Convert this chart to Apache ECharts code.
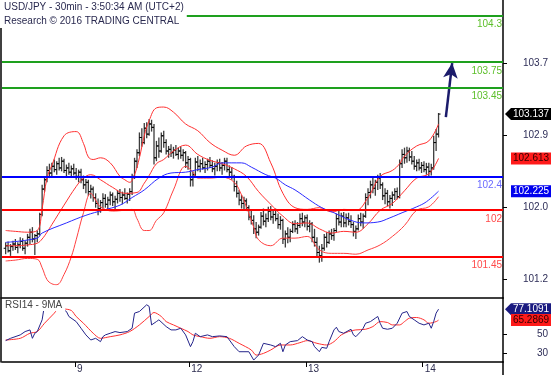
<!DOCTYPE html>
<html><head><meta charset="utf-8">
<script src="https://cdn.jsdelivr.net/npm/echarts@6/dist/echarts.min.js"></script>
<style>html,body{margin:0;padding:0;background:#fff}#c{width:554px;height:375px}</style>
</head><body><div id="c"></div>
<script>
const titleText = 'USD/JPY - 30min - 3:50:34 AM (UTC+2)';
const subText = 'Research © 2016 TRADING CENTRAL';
const rsiTitle = 'RSI14 - 9MA';
const dayTicks = [29.5, 76.5, 124.5, 172.5];
const dayLabels = ['9', '12', '13', '14'];
const priceTicks = [101.18, 102.034, 102.889, 103.737];
const rsiTicks = [30, 50];
const greenLevels = [104.3, 103.75, 103.45];
const blueLevels = [102.4];
const redLevels = [102, 101.45];
const arrowFrom = [182, 103.10];
const arrowTo = [184.6, 103.74];
const firstBar = 1;
// [open, high, low, close]
const bars = [
[101.55,101.62,101.48,101.58],[101.58,101.63,101.50,101.52],[101.52,101.60,101.46,101.57],[101.57,101.64,101.52,101.60],[101.60,101.66,101.53,101.56],[101.56,101.62,101.49,101.59],[101.59,101.68,101.55,101.63],[101.63,101.67,101.52,101.55],[101.55,101.64,101.48,101.61],[101.61,101.72,101.57,101.68],
[101.68,101.78,101.60,101.74],[101.74,101.80,101.62,101.66],[101.66,101.72,101.47,101.70],[101.70,101.76,101.62,101.72],[101.72,101.97,101.70,101.95],[101.95,102.30,101.93,102.25],[102.25,102.40,102.22,102.36],[102.36,102.52,102.33,102.47],[102.47,102.55,102.38,102.44],[102.44,102.56,102.40,102.52],
[102.52,102.60,102.45,102.48],[102.48,102.58,102.42,102.55],[102.55,102.62,102.47,102.50],[102.50,102.63,102.46,102.58],[102.58,102.61,102.44,102.47],[102.47,102.54,102.40,102.50],[102.50,102.56,102.42,102.45],[102.45,102.53,102.38,102.49],[102.49,102.55,102.41,102.44],[102.44,102.50,102.36,102.40],
[102.40,102.48,102.33,102.45],[102.45,102.49,102.32,102.36],[102.36,102.41,102.25,102.30],[102.30,102.37,102.20,102.33],[102.33,102.36,102.17,102.22],[102.22,102.30,102.14,102.25],[102.25,102.28,102.10,102.15],[102.15,102.20,102.03,102.08],[102.08,102.14,101.94,102.02],[102.02,102.12,101.97,102.09],
[102.09,102.20,102.02,102.14],[102.14,102.19,102.03,102.07],[102.07,102.16,101.99,102.12],[102.12,102.22,102.06,102.18],[102.18,102.21,102.05,102.10],[102.10,102.17,102.01,102.13],[102.13,102.24,102.08,102.20],[102.20,102.25,102.10,102.15],[102.15,102.22,102.07,102.18],[102.18,102.26,102.12,102.14],
[102.14,102.21,102.08,102.19],[102.19,102.26,102.11,102.22],[102.22,102.43,102.18,102.40],[102.40,102.62,102.37,102.58],[102.58,102.72,102.50,102.68],[102.68,102.92,102.64,102.86],[102.86,102.97,102.75,102.80],[102.80,103.03,102.78,102.97],[102.97,103.04,102.85,102.90],[102.90,103.08,102.88,103.02],
[103.02,103.07,102.93,102.98],[102.98,103.02,102.54,102.62],[102.62,102.82,102.58,102.76],[102.76,102.86,102.62,102.70],[102.70,102.92,102.68,102.88],[102.88,102.94,102.74,102.80],[102.80,102.84,102.66,102.70],[102.70,102.76,102.62,102.72],[102.72,102.78,102.63,102.68],[102.68,102.75,102.61,102.71],
[102.71,102.77,102.64,102.66],[102.66,102.74,102.60,102.70],[102.70,102.75,102.61,102.65],[102.65,102.72,102.58,102.68],[102.68,102.70,102.50,102.56],[102.56,102.64,102.48,102.60],[102.60,102.62,102.28,102.36],[102.36,102.46,102.28,102.42],[102.42,102.62,102.40,102.57],[102.57,102.64,102.46,102.52],
[102.52,102.60,102.45,102.55],[102.55,102.62,102.48,102.50],[102.50,102.58,102.44,102.54],[102.54,102.61,102.47,102.58],[102.58,102.63,102.50,102.53],[102.53,102.59,102.45,102.49],[102.49,102.56,102.41,102.52],[102.52,102.60,102.46,102.56],[102.56,102.61,102.46,102.50],[102.50,102.57,102.42,102.53],
[102.53,102.62,102.47,102.58],[102.58,102.62,102.45,102.48],[102.48,102.53,102.38,102.45],[102.45,102.51,102.36,102.40],[102.40,102.42,102.22,102.28],[102.28,102.35,102.15,102.20],[102.20,102.24,102.06,102.12],[102.12,102.18,102.02,102.08],[102.08,102.16,102.00,102.11],[102.11,102.14,101.99,102.03],
[102.03,102.06,101.88,101.92],[101.92,101.99,101.83,101.88],[101.88,101.94,101.72,101.78],[101.78,101.86,101.67,101.74],[101.74,101.83,101.70,101.80],[101.80,101.98,101.78,101.93],[101.93,102.02,101.82,101.87],[101.87,101.96,101.80,101.90],[101.90,102.04,101.86,101.99],[101.99,102.05,101.88,101.92],
[101.92,101.99,101.84,101.95],[101.95,102.02,101.87,101.90],[101.90,101.96,101.78,101.83],[101.83,101.93,101.77,101.88],[101.88,101.90,101.60,101.66],[101.66,101.76,101.56,101.72],[101.72,101.80,101.61,101.68],[101.68,101.78,101.62,101.75],[101.75,101.87,101.73,101.83],[101.83,101.88,101.74,101.78],
[101.78,101.86,101.72,101.82],[101.82,101.96,101.79,101.90],[101.90,101.97,101.81,101.86],[101.86,101.94,101.80,101.91],[101.91,101.95,101.76,101.81],[101.81,101.88,101.74,101.84],[101.84,101.86,101.62,101.68],[101.68,101.78,101.57,101.62],[101.62,101.68,101.44,101.50],[101.50,101.58,101.38,101.46],
[101.46,101.60,101.39,101.55],[101.55,101.72,101.52,101.68],[101.68,101.74,101.56,101.62],[101.62,101.76,101.60,101.72],[101.72,101.78,101.65,101.70],[101.70,101.79,101.64,101.76],[101.76,101.96,101.74,101.90],[101.90,101.99,101.82,101.86],[101.86,101.97,101.80,101.93],[101.93,101.98,101.80,101.85],
[101.85,101.96,101.80,101.91],[101.91,101.97,101.82,101.87],[101.87,101.94,101.79,101.83],[101.83,101.86,101.69,101.75],[101.75,101.82,101.66,101.78],[101.78,101.95,101.76,101.90],[101.90,101.97,101.81,101.86],[101.86,101.96,101.78,101.93],[101.93,102.20,101.91,102.15],[102.15,102.26,102.06,102.21],
[102.21,102.35,102.14,102.30],[102.30,102.38,102.20,102.26],[102.26,102.36,102.17,102.33],[102.33,102.42,102.24,102.38],[102.38,102.44,102.25,102.30],[102.30,102.33,102.12,102.17],[102.17,102.26,102.07,102.20],[102.20,102.24,102.05,102.10],[102.10,102.18,102.02,102.14],[102.14,102.22,102.05,102.18],
[102.18,102.26,102.12,102.22],[102.22,102.27,102.13,102.16],[102.16,102.60,102.14,102.55],[102.55,102.72,102.50,102.66],[102.66,102.74,102.55,102.62],[102.62,102.75,102.56,102.70],[102.70,102.74,102.58,102.63],[102.63,102.70,102.54,102.58],[102.58,102.64,102.48,102.52],[102.52,102.60,102.46,102.56],
[102.56,102.61,102.47,102.50],[102.50,102.57,102.44,102.53],[102.53,102.58,102.45,102.48],[102.48,102.56,102.42,102.51],[102.51,102.56,102.40,102.46],[102.46,102.55,102.41,102.50],[102.50,102.88,102.48,102.80],[102.80,102.96,102.70,102.90],[102.90,103.15,102.86,103.137]
];
const bbUpper = [[1,101.76],[5,101.75],[10,101.74],[14,101.76],[16,102.02],[18,102.38],[20,102.53],[25,102.88],[30,102.93],[33,102.79],[35,102.63],[37,102.60],[40,102.62],[44,102.56],[48,102.40],[50,102.36],[52,102.33],[54,102.42],[56,102.62],[58,102.88],[60,103.06],[63,103.21],[66,103.22],[70,103.16],[75,103.02],[80,102.94],[85,102.80],[90,102.71],[95,102.65],[100,102.76],[105,102.79],[110,102.56],[115,102.20],[120,102.03],[125,102.01],[130,102.03],[135,101.98],[140,102.01],[145,102.00],[150,102.15],[155,102.40],[160,102.47],[163,102.55],[165,102.64],[170,102.76],[175,102.82],[179,103.02]];
const bbMiddle = [[1,101.58],[5,101.58],[10,101.59],[14,101.61],[16,101.66],[18,101.74],[20,101.83],[25,102.06],[30,102.28],[33,102.38],[36,102.42],[40,102.36],[45,102.27],[50,102.20],[55,102.21],[58,102.32],[60,102.41],[63,102.55],[66,102.60],[70,102.70],[75,102.77],[80,102.66],[85,102.59],[90,102.55],[95,102.49],[100,102.40],[105,102.22],[110,102.07],[115,101.93],[120,101.84],[125,101.85],[130,101.78],[135,101.73],[140,101.75],[145,101.74],[150,101.84],[155,102.00],[160,102.08],[165,102.23],[170,102.38],[175,102.43],[179,102.613]];
const bbLower = [[1,101.40],[5,101.41],[10,101.43],[14,101.42],[16,101.32],[18,101.18],[20,101.13],[22,101.12],[25,101.24],[28,101.45],[30,101.65],[33,101.97],[36,102.20],[38,102.12],[40,102.04],[45,101.99],[50,102.00],[53,102.01],[55,101.90],[58,101.76],[60,101.76],[63,101.88],[66,101.97],[70,102.24],[75,102.52],[78,102.45],[80,102.38],[85,102.38],[90,102.39],[95,102.33],[98,102.18],[100,102.04],[103,101.80],[105,101.65],[110,101.58],[115,101.67],[120,101.67],[125,101.69],[130,101.53],[135,101.49],[140,101.49],[145,101.48],[150,101.53],[155,101.59],[160,101.69],[165,101.82],[170,102.00],[175,102.04],[179,102.16]];
const ma50 = [[1,101.62],[14,101.67],[16,101.73],[26,101.85],[34,101.94],[41,102.00],[48,102.06],[53,102.15],[58,102.24],[64,102.38],[69,102.44],[75,102.45],[80,102.48],[86,102.51],[90,102.56],[98,102.56],[102,102.51],[108,102.42],[112,102.38],[116,102.30],[120,102.24],[126,102.12],[131,102.03],[136,101.97],[143,101.88],[148,101.85],[154,101.86],[159,101.91],[164,101.97],[170,102.04],[174,102.10],[179,102.225]];
const rsi14 = [[1,43.1],[3,45.6],[7,49.3],[9,52.9],[11,54.7],[12,45.6],[13,51.1],[14,52.9],[16,65.6],[17,81.9],[19,85.5],[21,84.5],[23,80.5],[24,78.2],[26,74.6],[27,69.2],[30,63.7],[32,56.5],[34,49.3],[36,43.8],[38,45.6],[40,42.0],[41,47.4],[42,49.3],[44,51.1],[46,52.9],[48,51.8],[51,52.9],[53,56.5],[54,72.8],[56,74.6],[59,81.9],[60,80.1],[61,60.1],[63,63.7],[64,65.6],[67,58.3],[69,54.7],[71,54.7],[73,56.5],[75,49.3],[77,36.6],[78,42.0],[79,51.1],[81,47.4],[84,49.3],[86,47.4],[89,48.2],[92,47.4],[95,36.6],[97,31.1],[101,31.1],[103,22.1],[105,27.5],[107,40.2],[110,38.4],[112,36.6],[114,40.2],[115,31.1],[116,38.4],[118,42.0],[121,43.1],[123,47.4],[125,43.8],[127,42.0],[128,36.6],[130,31.1],[131,35.8],[133,34.8],[134,42.0],[136,54.7],[137,57.6],[138,52.9],[140,51.1],[143,55.4],[144,49.3],[145,47.4],[147,52.9],[148,56.5],[149,61.9],[151,63.7],[153,67.4],[154,69.2],[155,61.9],[156,56.5],[158,55.4],[160,56.5],[162,61.9],[164,72.8],[166,74.6],[167,69.2],[169,65.6],[171,61.9],[173,60.1],[175,61.9],[176,56.5],[177,63.7],[178,72.8],[179,77.1091]];
const rsiMa9 = [[1,43.8],[7,45.6],[11,51.1],[14,52.9],[17,61.9],[21,72.8],[23,78.5],[25,77.5],[28,75.7],[30,69.2],[33,61.9],[37,51.1],[40,45.6],[44,47.4],[48,49.3],[52,52.9],[56,60.1],[60,69.2],[62,73.5],[65,69.2],[67,63.7],[70,60.1],[73,56.5],[76,52.9],[78,49.3],[81,47.4],[85,45.6],[89,47.4],[93,45.6],[97,40.2],[102,33.0],[104,27.5],[107,29.3],[110,33.0],[114,38.4],[118,38.4],[122,40.9],[125,43.1],[129,40.2],[133,38.4],[136,42.0],[139,49.3],[142,52.9],[145,54.7],[149,55.4],[152,58.3],[155,63.7],[158,62.7],[160,60.1],[163,60.1],[165,63.7],[167,67.4],[170,68.1],[173,65.6],[175,61.9],[178,63.7],[179,65.2869]];

const X_MIN = -0.5, X_MAX = 205.5;
const FONT = 'Liberation Sans, Arial, sans-serif';
const axisTextColor = '#2e2e58';
const barData = bars.map((b, k) => [firstBar + k, b[0], b[1], b[2], b[3]]);
const lastOf = a => a[a.length - 1][1];
const lastClose = bars[bars.length - 1][3];

function badge(v, bg, fg, arrow, digits) {
  return {
    coord: [X_MAX, v], value: v,
    symbol: arrow ? 'path://M0,6L6,0L46,0L46,12L6,12Z' : 'rect',
    symbolSize: arrow ? [46, 12] : [40, 12],
    symbolOffset: arrow ? [25, 0] : [28, 0],
    itemStyle: { color: bg },
    label: { show: true, position: 'inside', color: fg, fontSize: 10, fontFamily: FONT,
      offset: arrow ? [3, 0] : [0, 0], formatter: () => v.toFixed(digits) }
  };
}
function level(v, lineColor, textColor) {
  return { yAxis: v, lineStyle: { color: lineColor, width: 2, type: 'solid' },
    label: { color: textColor } };
}

const chart = echarts.init(document.getElementById('c'), null, { renderer: 'canvas' });
const borderAxis = (gridIndex) => ({
  type: 'value', gridIndex, position: 'left', offset: 1.5, min: 0, max: 1,
  axisLine: { show: true, onZero: false, lineStyle: { color: '#000', width: 1.5 } },
  axisTick: { show: false }, axisLabel: { show: false }, splitLine: { show: false }
});
chart.setOption({
  animation: false,
  textStyle: { fontFamily: FONT },
  title: [
    { text: titleText, subtext: subText, left: 0, top: 0, padding: [2, 3, 2, 4], itemGap: 4,
      backgroundColor: '#fff',
      textStyle: { fontSize: 10, fontWeight: 'normal', color: '#2a2a50', fontFamily: FONT },
      subtextStyle: { fontSize: 10, color: '#2a2a50', fontFamily: FONT } },
    { text: rsiTitle, left: 2, top: 299, padding: [1, 3, 1, 3], backgroundColor: '#fff',
      textStyle: { fontSize: 10, fontWeight: 'normal', color: '#444', fontFamily: FONT } }
  ],
  grid: [
    { left: 2, right: 51, top: 0, height: 298 },
    { left: 2, right: 51, top: 298, height: 64 },
    { left: 2, right: 51, top: 362, height: 13 }
  ],
  xAxis: [
    { type: 'value', gridIndex: 0, min: X_MIN, max: X_MAX,
      axisLine: { show: true, onZero: false, lineStyle: { color: '#000', width: 1.5 } },
      axisTick: { show: false }, axisLabel: { show: false }, splitLine: { show: false } },
    { type: 'value', gridIndex: 1, min: X_MIN, max: X_MAX,
      axisLine: { show: true, onZero: false, lineStyle: { color: '#000', width: 1.5 } },
      axisTick: { show: true, customValues: dayTicks, length: 5, lineStyle: { color: '#000' } },
      axisLabel: { show: true, customValues: dayTicks, margin: 2, align: 'left', padding: [0, 0, 0, 2],
        fontSize: 10, color: '#2e2e50', formatter: v => dayLabels[dayTicks.indexOf(v)] },
      splitLine: { show: false } },
    { type: 'value', gridIndex: 2, min: X_MIN, max: X_MAX, show: false }
  ],
  yAxis: [
    { type: 'value', gridIndex: 0, position: 'right', min: 100.962, max: 104.486,
      axisLine: { show: true, onZero: false, lineStyle: { color: '#000', width: 1.5 } },
      axisTick: { show: true, customValues: priceTicks, length: 4, lineStyle: { color: '#000' } },
      axisLabel: { show: true, customValues: priceTicks, margin: 45, align: 'right',
        fontSize: 10, color: axisTextColor, formatter: v => v.toFixed(1) },
      splitLine: { show: false } },
    borderAxis(0),
    { type: 'value', gridIndex: 1, position: 'right', min: 20, max: 89.2,
      axisLine: { show: true, onZero: false, lineStyle: { color: '#000', width: 1.5 } },
      axisTick: { show: true, customValues: rsiTicks, length: 4, lineStyle: { color: '#000' } },
      axisLabel: { show: true, customValues: rsiTicks, margin: 45, align: 'right',
        fontSize: 10, color: axisTextColor, formatter: v => String(v) },
      splitLine: { show: false } },
    borderAxis(1),
    { type: 'value', gridIndex: 2, position: 'right', min: 0, max: 1,
      axisLine: { show: true, onZero: false, lineStyle: { color: '#000', width: 1.5 } },
      axisTick: { show: false }, axisLabel: { show: false }, splitLine: { show: false } }
  ],
  series: [
    { type: 'custom', name: 'bars', xAxisIndex: 0, yAxisIndex: 0, z: 2,
      data: barData, encode: { x: 0, y: [1, 2, 3, 4] },
      renderItem: function (params, api) {
        const i = api.value(0);
        const pO = api.coord([i, api.value(1)]);
        const pH = api.coord([i, api.value(2)]);
        const pL = api.coord([i, api.value(3)]);
        const pC = api.coord([i, api.value(4)]);
        const x = pH[0];
        return { type: 'group', children: [
          { type: 'line', shape: { x1: x, y1: pH[1], x2: x, y2: pL[1] }, style: { stroke: '#3c3c3c', lineWidth: 1.3 } },
          { type: 'line', shape: { x1: x - 2, y1: pO[1], x2: x, y2: pO[1] }, style: { stroke: '#000', lineWidth: 1 } },
          { type: 'line', shape: { x1: x, y1: pC[1], x2: x + 2, y2: pC[1] }, style: { stroke: '#000', lineWidth: 1 } }
        ] };
      } },
    { type: 'line', name: 'bbUpper', xAxisIndex: 0, yAxisIndex: 0, data: bbUpper, smooth: 0.4,
      showSymbol: false, z: 3, lineStyle: { color: '#ff3030', width: 1 },
      markLine: { silent: true, animation: false, symbol: ['none', 'arrow'], symbolSize: [11, 15],
        label: { show: false },
        data: [[{ coord: arrowFrom }, { coord: arrowTo }]],
        lineStyle: { color: '#1b1b6b', width: 2.5, type: 'solid' } } },
    { type: 'line', name: 'bbMiddle', xAxisIndex: 0, yAxisIndex: 0, data: bbMiddle, smooth: 0.4,
      showSymbol: false, z: 3, clip: false, lineStyle: { color: '#ff3030', width: 1 },
      markPoint: { animation: false, data: [
        badge(lastClose, '#000', '#fff', true, 3),
        badge(lastOf(bbMiddle), '#ff1a1a', '#300', false, 3)
      ] } },
    { type: 'line', name: 'bbLower', xAxisIndex: 0, yAxisIndex: 0, data: bbLower, smooth: 0.4,
      showSymbol: false, z: 3, lineStyle: { color: '#ff4040', width: 1 } },
    { type: 'line', name: 'ma50', xAxisIndex: 0, yAxisIndex: 0, data: ma50, smooth: 0.4,
      showSymbol: false, z: 4, clip: false, lineStyle: { color: '#2a2aff', width: 1 },
      markPoint: { animation: false, data: [ badge(lastOf(ma50), '#0000ee', '#fff', false, 3) ] },
      markLine: { silent: true, animation: false, symbol: 'none',
        label: { show: true, position: 'insideEndBottom', distance: [1, 4], fontSize: 10, fontFamily: FONT,
          formatter: p => String(p.value) },
        data: [
          ...greenLevels.map(v => level(v, '#1ea01e', '#5cbf2a')),
          ...blueLevels.map(v => level(v, '#0000ff', '#6a6aff')),
          ...redLevels.map(v => level(v, '#ff0000', '#ff4a4a'))
        ] } },
    { type: 'line', name: 'rsi14', xAxisIndex: 1, yAxisIndex: 2, data: rsi14,
      showSymbol: false, z: 4, clip: false, lineStyle: { color: '#24248a', width: 1 },
      markPoint: { animation: false, data: [ badge(lastOf(rsi14), '#1a1a80', '#fff', true, 4) ] } },
    { type: 'line', name: 'rsiMa9', xAxisIndex: 1, yAxisIndex: 2, data: rsiMa9, smooth: 0.3,
      showSymbol: false, z: 3, clip: false, lineStyle: { color: '#ff3030', width: 1 },
      markPoint: { animation: false, data: [ badge(lastOf(rsiMa9), '#ff1a1a', '#300', false, 4) ] } }
  ]
});
</script></body></html>
